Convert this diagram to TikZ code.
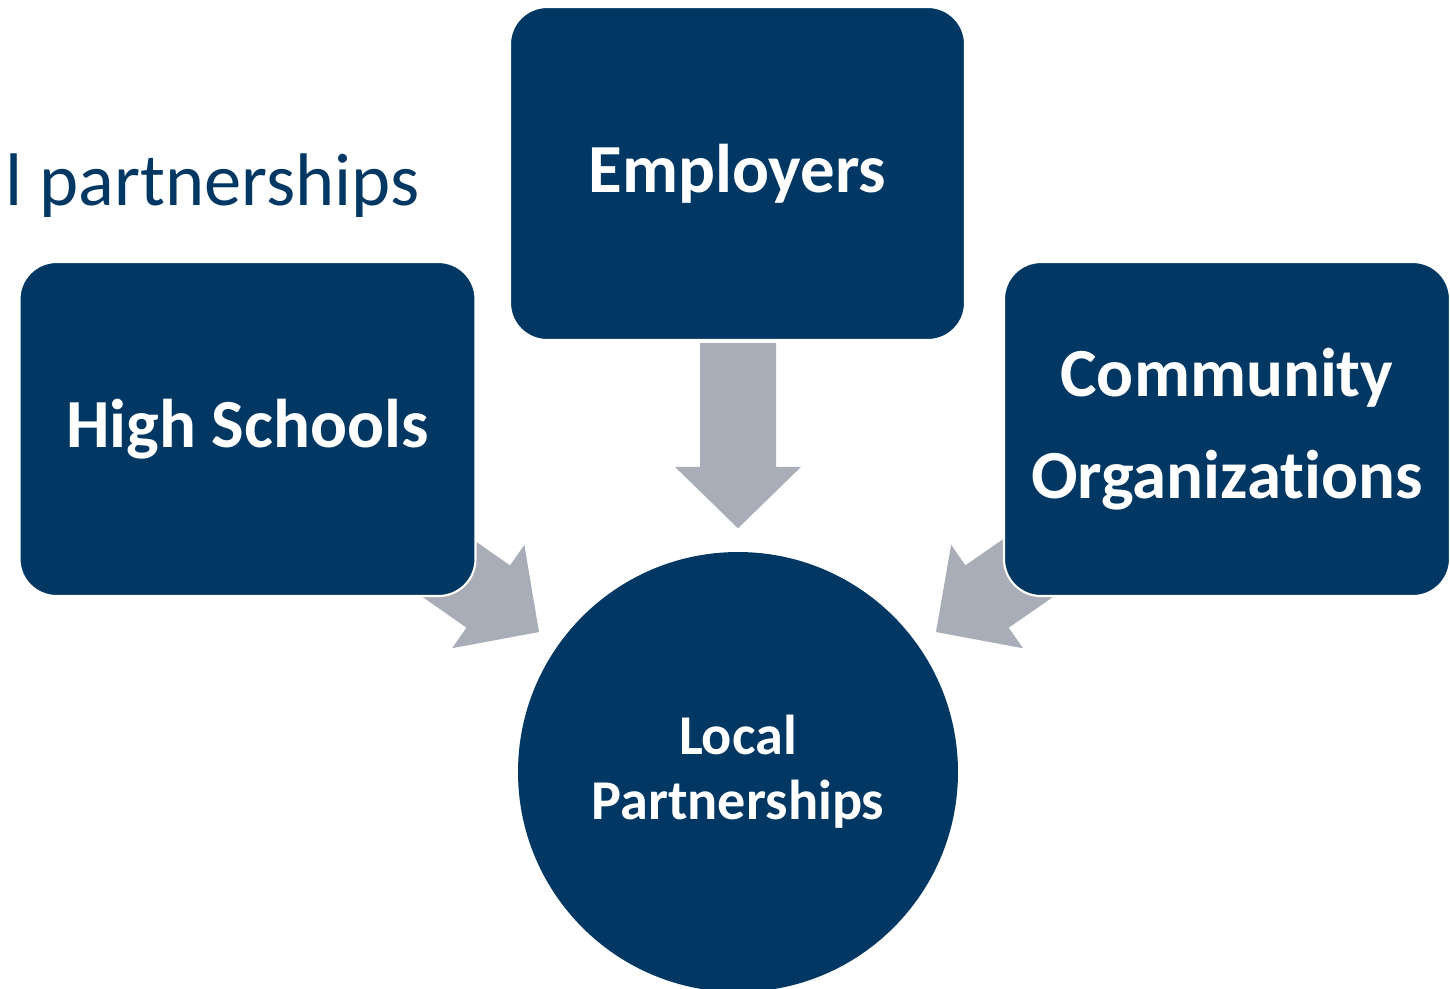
\documentclass[tikz,border=0pt]{standalone}
\usepackage{fontspec}
\setmainfont{Carlito}[Ligatures=NoCommon]
\usetikzlibrary{calc,backgrounds}
\definecolor{navy}{RGB}{0,55,99}
\definecolor{arrowgrey}{RGB}{169,173,184}
\newcommand\drawblockarrow[2]{%
  \coordinate (s#1) at ($(#1)!0.6684!(#2)$);
  \fill[arrowgrey] ($(#1)!3.8mm!90:(#2)$) -- ($(s#1)!3.8mm!90:(#2)$) -- ($(s#1)!6.3mm!90:(#2)$) -- (#2)
    -- ($(s#1)!6.3mm!-90:(#2)$) -- ($(s#1)!3.8mm!-90:(#2)$) -- ($(#1)!3.8mm!-90:(#2)$) -- cycle;}
\begin{document}
\begin{tikzpicture}[x=0.1mm,y=-0.1mm,
  box/.style={draw=white, line width=0.6pt, fill=navy, rounded corners=3.7mm,
    minimum width=45.6mm, minimum height=33.4mm, text=white,
    font=\bfseries\fontsize{19.6}{29}\selectfont, align=center, inner sep=0pt},
  hub/.style={circle, fill=navy, minimum size=44mm, text=white,
    font=\bfseries\fontsize{16}{18.5}\selectfont, align=center, inner sep=0pt}]
\useasboundingbox (0,0) rectangle (1450,988);
\clip (0,0) rectangle (1450,988);
\node[anchor=base west, text=navy, font=\fontsize{21.2}{26}\selectfont, inner sep=0pt] (title) at (5,205) {l partnerships};
\node[box, minimum width=45.5mm, minimum height=33.3mm] (emp) at (737.5,173.5) {Employers};
\node[box] (hs) at (247.5,429) {High Schools};
\node[box, minimum width=44.6mm] (com) at (1227,429) {Community\\Organizations};
\node[hub] (loc) at (738,772) {Local\\Partnerships};
\begin{scope}[on background layer]
  \coordinate (t1) at ($(hs.center)+(138.5,96)$);
  \coordinate (p1) at ($(loc.center)+(-199,-140)$);
  \coordinate (t2) at ($(emp.south)+(0.5,2)$);
  \coordinate (p2) at ($(loc.north)+(0,-23)$);
  \coordinate (t3) at ($(com.center)+(-137,96)$);
  \coordinate (p3) at ($(loc.center)+(198,-140)$);
  \drawblockarrow{t1}{p1}
  \drawblockarrow{t2}{p2}
  \drawblockarrow{t3}{p3}
\end{scope}
\end{tikzpicture}
\end{document}
